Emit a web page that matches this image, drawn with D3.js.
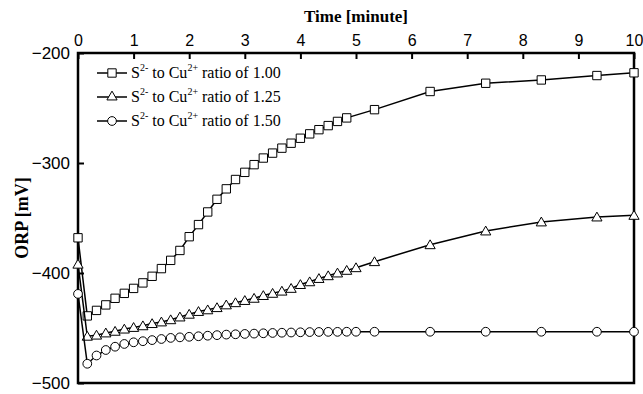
<!DOCTYPE html>
<html>
<head>
<meta charset="utf-8">
<script src="https://cdn.jsdelivr.net/npm/d3@7"></script>
<style>
  body { margin: 0; background: #fff; }
  svg { display: block; font-family: "Liberation Serif", "Times New Roman", serif; }
</style>
</head>
<body>
<div id="chart"></div>
<script>
// time in minutes (10 s steps to ~5 min, then one reading per minute)
var timeSq = [0, 0.167, 0.333, 0.5, 0.667, 0.833, 1, 1.167, 1.333, 1.5, 1.667, 1.833,
	2, 2.167, 2.333, 2.5, 2.667, 2.833, 3, 3.167, 3.333, 3.5, 3.667, 3.833,
	4, 4.167, 4.333, 4.5, 4.667, 4.833, 5.333, 6.333, 7.333, 8.333, 9.333, 10];
var timeTriCirc = [0, 0.167, 0.333, 0.5, 0.667, 0.833, 1, 1.167, 1.333, 1.5, 1.667, 1.833,
	2, 2.167, 2.333, 2.5, 2.667, 2.833, 3, 3.167, 3.333, 3.5, 3.667, 3.833,
	4, 4.167, 4.333, 4.5, 4.667, 4.833, 5, 5.333, 6.333, 7.333, 8.333, 9.333, 10];

var orp100 = [-368, -439, -434, -429, -423, -418.5, -414, -409, -403, -396, -388.5, -379.5,
	-367, -356, -344.5, -333, -323.5, -315, -308.5, -301.5, -295.5, -291, -286.5, -282,
	-277.5, -273.5, -269.7, -266, -262.2, -259, -251.5, -235, -227.5, -224.5, -220.5, -218];
var orp125 = [-392, -457.5, -456.5, -454.5, -453, -451, -449.5, -448, -446, -444.5, -442.5, -440,
	-437.5, -435, -433.5, -431.5, -429, -427, -425, -423, -420.5, -418.5, -416.5, -414,
	-410.5, -408, -405, -402.5, -400, -397.6, -395.2, -389.7, -374.3, -361.8, -353.6, -349.1, -347.6];
var orp150 = [-419, -482.5, -475, -470, -467, -464.5, -463, -462, -461, -460, -459, -458.5,
	-458, -457.5, -457, -456.5, -456, -455.7, -455.4, -455.1, -454.8, -454.5, -454.3, -454.1,
	-453.9, -453.7, -453.6, -453.5, -453.5, -453.4, -453.4, -453.4, -453.4, -453.4, -453.4, -453.4, -453.4];

var ratioLabels = ['1.00', '1.25', '1.50'];
var xTicks = [0, 1, 2, 3, 4, 5, 6, 7, 8, 9, 10];
var yTicks = [-500, -400, -300, -200];

var width = 643, height = 394;
var plot = {left: 78, right: 634, top: 53, bottom: 383};

var svg = d3.select('#chart').append('svg')
	.attr('width', width)
	.attr('height', height);

var x = d3.scaleLinear().domain([0, 10]).range([plot.left, plot.right]);
var y = d3.scaleLinear().domain([-500, -200]).range([plot.bottom, plot.top]);

// top axis, ticks pointing into the plot
var gx = svg.append('g')
	.attr('transform', 'translate(0,' + plot.top + ')')
	.call(d3.axisTop(x).tickValues(xTicks).tickFormat(d3.format('d'))
		.tickSizeInner(-6).tickSizeOuter(0).tickPadding(7));
gx.select('.domain').remove();
gx.selectAll('line').attr('stroke-width', 2);
gx.selectAll('text').style('font-size', '16px').attr('fill', '#000');

// left axis
var gy = svg.append('g')
	.attr('transform', 'translate(' + plot.left + ',0)')
	.call(d3.axisLeft(y).tickValues(yTicks).tickFormat(d3.format('d'))
		.tickSizeInner(-6).tickSizeOuter(0).tickPadding(8));
gy.select('.domain').remove();
gy.selectAll('line').attr('stroke-width', 2);
gy.selectAll('text').style('font-size', '17px').attr('fill', '#000');

// frame
svg.append('rect')
	.attr('x', plot.left)
	.attr('y', plot.top)
	.attr('width', plot.right - plot.left)
	.attr('height', plot.bottom - plot.top)
	.attr('fill', 'none')
	.attr('stroke', '#000')
	.attr('stroke-width', 2.5);

svg.append('text')
	.attr('x', (plot.left + plot.right) / 2)
	.attr('y', 22)
	.attr('text-anchor', 'middle')
	.style('font-size', '17px')
	.style('font-weight', 'bold')
	.text('Time [minute]');

svg.append('text')
	.attr('transform', 'translate(28,' + ((plot.top + plot.bottom) / 2) + ') rotate(-90)')
	.attr('text-anchor', 'middle')
	.style('font-size', '18px')
	.style('font-weight', 'bold')
	.text('ORP [mV]');

var series = [
	{times: timeSq, values: orp100, marker: d3.symbolSquare, size: 70},
	{times: timeTriCirc, values: orp125, marker: d3.symbolTriangle, size: 45},
	{times: timeTriCirc, values: orp150, marker: d3.symbolCircle, size: 60}
];

var line = d3.line()
	.x(function(d) { return x(d[0]); })
	.y(function(d) { return y(d[1]); });

series.forEach(function(s) {
	var pts = s.times.map(function(t, i) { return [t, s.values[i]]; });
	svg.append('path')
		.datum(pts)
		.attr('fill', 'none')
		.attr('stroke', '#000')
		.attr('stroke-width', 1.5)
		.attr('d', line);
	svg.selectAll(null)
		.data(pts)
		.enter()
		.append('path')
		.attr('d', d3.symbol().type(s.marker).size(s.size))
		.attr('transform', function(d) {
			var dy = s.marker === d3.symbolTriangle ? 1 : 0;
			return 'translate(' + x(d[0]) + ',' + (y(d[1]) + dy) + ')';
		})
		.attr('fill', '#fff')
		.attr('stroke', '#000')
		.attr('stroke-width', 1);
});

// legend
var legend = svg.append('g');
series.forEach(function(s, i) {
	var ly = 73 + i * 24;
	legend.append('line')
		.attr('x1', 97).attr('x2', 127)
		.attr('y1', ly).attr('y2', ly)
		.attr('stroke', '#000')
		.attr('stroke-width', 1.5);
	legend.append('path')
		.attr('d', d3.symbol().type(s.marker).size(s.size))
		.attr('transform', 'translate(112,' + ly + ')')
		.attr('fill', '#fff')
		.attr('stroke', '#000');
	var t = legend.append('text')
		.attr('x', 131)
		.attr('y', ly + 5)
		.style('font-size', '16px');
	t.append('tspan').text('S');
	t.append('tspan').attr('dy', -7).style('font-size', '10px').text('2-');
	t.append('tspan').attr('dy', 7).text(' to Cu');
	t.append('tspan').attr('dy', -7).style('font-size', '10px').text('2+');
	t.append('tspan').attr('dy', 7).text(' ratio of ' + ratioLabels[i]);
});
</script>
</body>
</html>
